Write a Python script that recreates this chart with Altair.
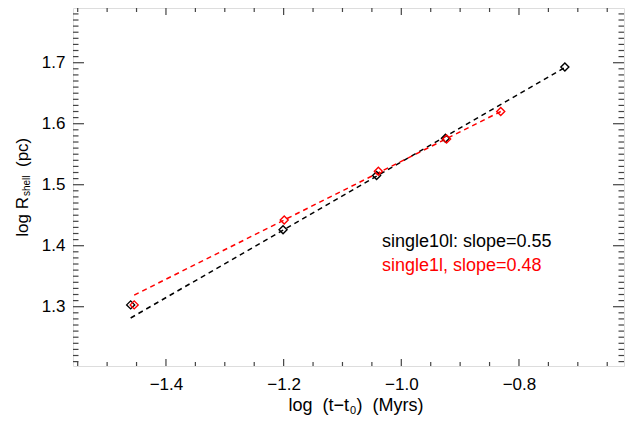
import altair as alt
import pandas as pd

# ---- data ----
black_x = [-1.460, -1.201, -1.042, -0.925, -0.722]
black_y = [1.303, 1.426, 1.515, 1.576, 1.693]
red_x = [-1.454, -1.199, -1.039, -0.923, -0.831]
red_y = [1.303, 1.442, 1.522, 1.575, 1.620]

# fitted lines (end points)
black_fit_x = [-1.460, -0.722]
black_fit_y = [1.2815, 1.692]
red_fit_x = [-1.454, -0.831]
red_fit_y = [1.319, 1.620]

x_major = [-1.4, -1.2, -1.0, -0.8]
x_minor = [-1.55, -1.5, -1.45, -1.35, -1.3, -1.25, -1.15, -1.1, -1.05,
           -0.95, -0.9, -0.85, -0.75, -0.7, -0.65]
y_major = [1.3, 1.4, 1.5, 1.6, 1.7]
y_minor = [round(1.21 + 0.01 * i, 2) for i in range(58)]
y_minor = [v for v in y_minor if abs(v * 10 - round(v * 10)) > 1e-6]

legend_lines = ["single10l: slope=0.55", "single1l, slope=0.48"]
legend_colors = ["#000000", "#ff0000"]

W, H = 551, 358
XDOM = [-1.558, -0.6215]
YDOM = [1.2028, 1.7897]
FONT = "Liberation Sans"
FRAME = "#444444"
NB = "\u00a0"

xs = alt.Scale(domain=XDOM, nice=False, zero=False)
ys = alt.Scale(domain=YDOM, nice=False, zero=False)

XAXIS = alt.Axis(values=x_major, format=".1f", ticks=False, domain=False, grid=False,
                 labelFont=FONT, labelFontSize=17, labelColor="#000",
                 labelPadding=10, title=None)
YAXIS = alt.Axis(values=y_major, format=".1f", ticks=False, domain=False, grid=False,
                 labelFont=FONT, labelFontSize=17, labelColor="#000",
                 labelPadding=8, title=None)

pts = pd.DataFrame({
    "x": black_x + red_x,
    "y": black_y + red_y,
    "s": ["black"] * len(black_x) + ["red"] * len(red_x),
})
fits = pd.DataFrame({
    "x": black_fit_x + red_fit_x,
    "y": black_fit_y + red_fit_y,
    "s": ["black"] * 2 + ["red"] * 2,
})
color = alt.Color("s:N", scale=alt.Scale(domain=["black", "red"], range=["#000000", "#ff0000"]), legend=None)

def X(field="x"):
    return alt.X(f"{field}:Q", scale=xs, axis=XAXIS)

def Y(field="y"):
    return alt.Y(f"{field}:Q", scale=ys, axis=YAXIS)

lines = alt.Chart(fits).mark_line(strokeDash=[5, 4], strokeWidth=1.5).encode(
    x=X(), y=Y(), color=color, detail="s:N")

points = alt.Chart(pts).mark_point(shape="diamond", filled=False, size=64, strokeWidth=1.4, opacity=1).encode(
    x=X(), y=Y(), color=color, order=alt.Order("s:N"))

def xticks(vals, length):
    df = pd.DataFrame({"x": vals})
    bot = alt.Chart(df).mark_rule(color=FRAME, strokeWidth=1.2).encode(
        x=X(), y=alt.value(H), y2=alt.value(H - length))
    top = alt.Chart(df).mark_rule(color=FRAME, strokeWidth=1.2).encode(
        x=X(), y=alt.value(0), y2=alt.value(length))
    return bot + top

def yticks(vals, length):
    df = pd.DataFrame({"y": vals})
    left = alt.Chart(df).mark_rule(color=FRAME, strokeWidth=1.2).encode(
        y=Y(), x=alt.value(0), x2=alt.value(length))
    right = alt.Chart(df).mark_rule(color=FRAME, strokeWidth=1.2).encode(
        y=Y(), x=alt.value(W), x2=alt.value(W - length))
    return left + right

ticks = xticks(x_major, 7) + xticks(x_minor, 4) + yticks(y_major, 11) + yticks(y_minor, 5.5)

def label(txt, x, y, size, align="left", angle=0, col="#000000"):
    return alt.Chart(pd.DataFrame({"t": [txt]})).mark_text(
        align=align, baseline="alphabetic", font=FONT, fontSize=size, angle=angle, color=col
    ).encode(text="t:N", x=alt.value(x), y=alt.value(y))

legend = (label(legend_lines[0], 309, 239, 18, col=legend_colors[0])
          + label(legend_lines[1], 309, 262.5, 18, col=legend_colors[1]))

xtitle = (label("log" + NB + NB + "(t\u2212t", 276, 403, 18, align="right")
          + label("0", 277, 406, 11)
          + label(")" + NB + NB + "(Myrs)", 283.5, 403, 18))
ytitle = (label("log R", -45.5, 189, 17, align="right", angle=270)
          + label("shell", -43.5, 188, 10, align="left", angle=270)
          + label("(pc)", -45.5, 159, 17, align="left", angle=270))

chart = alt.layer(ticks, lines, points, legend, xtitle, ytitle).properties(
    width=W, height=H,
    autosize=alt.AutoSizeParams(type="none"),
    padding={"left": 65, "top": 0, "right": 6, "bottom": 54},
).configure_view(stroke=FRAME, strokeWidth=1.5).configure(background="white")

chart.save("out.html", embed_options={"renderer": "svg", "actions": False})
